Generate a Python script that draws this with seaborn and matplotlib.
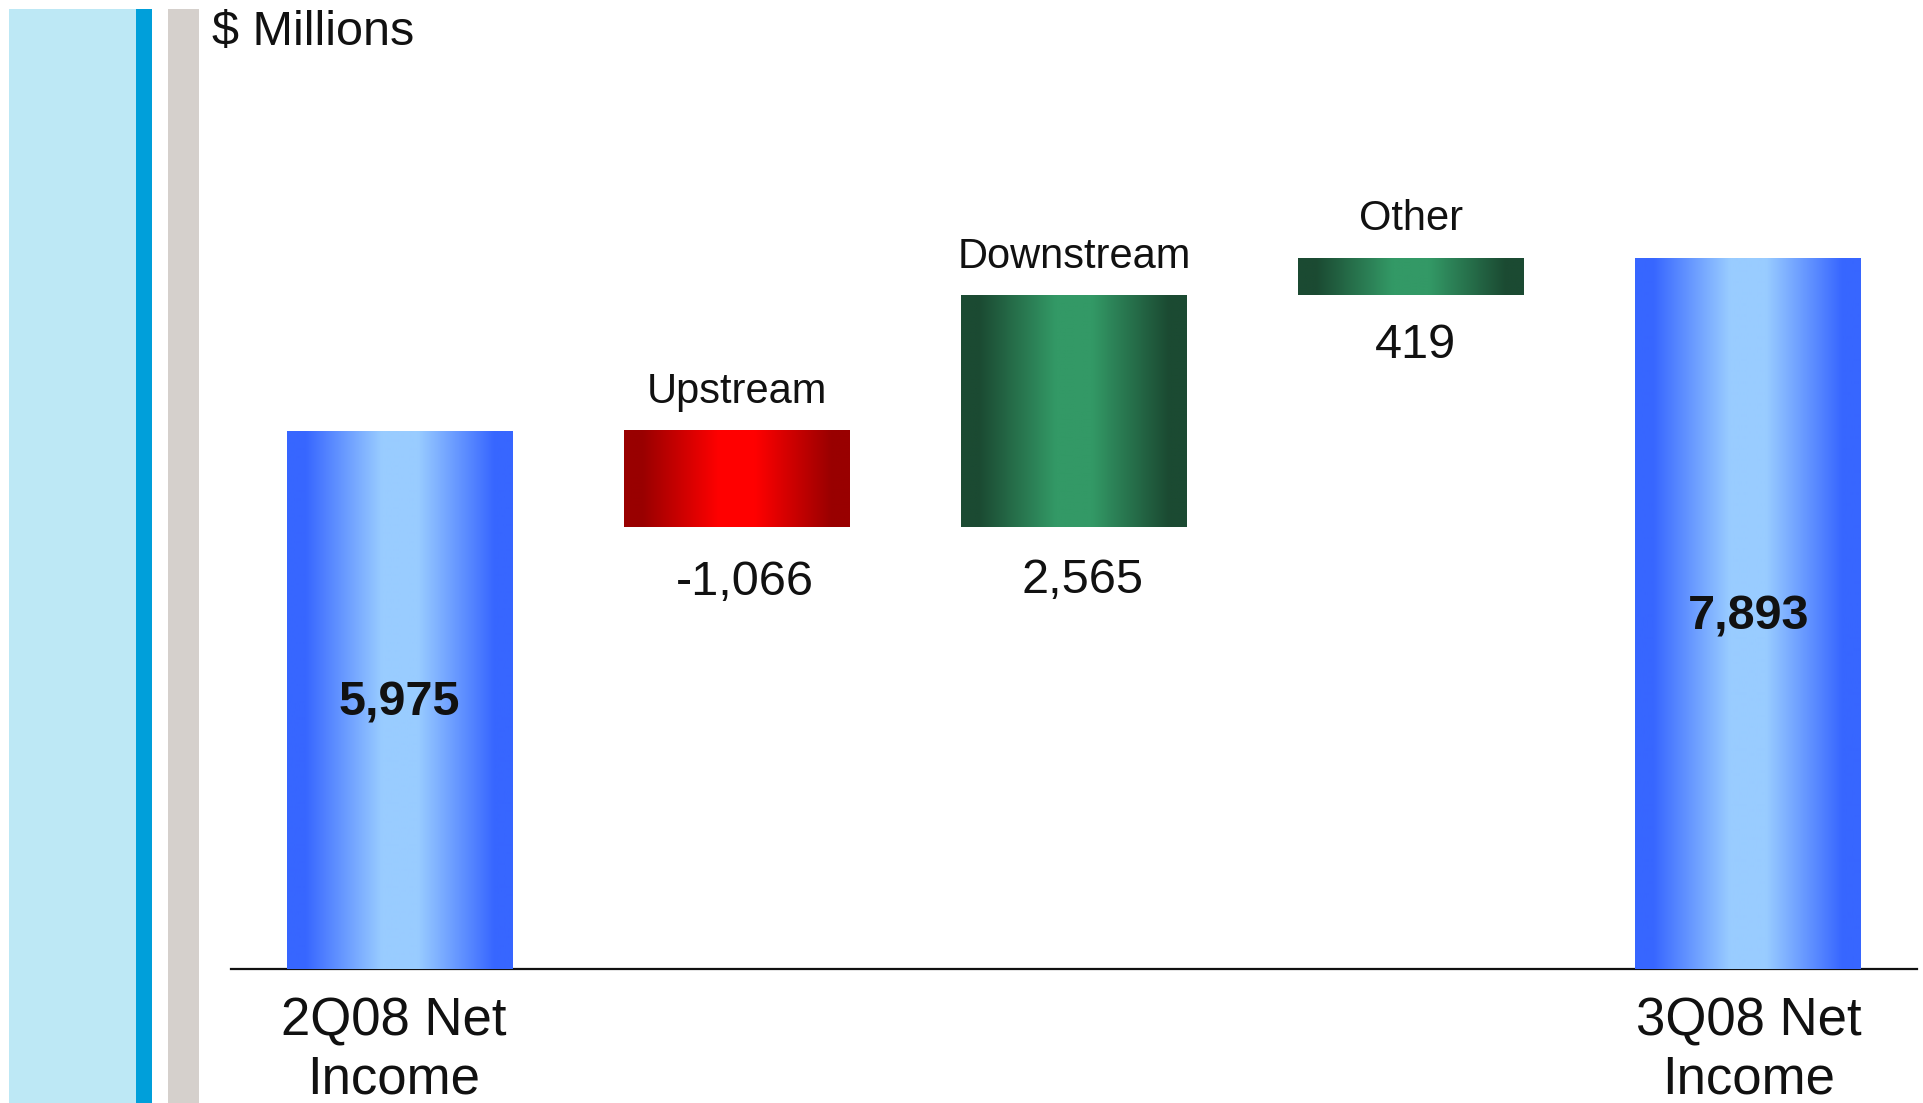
import numpy as np
import pandas as pd
import matplotlib
matplotlib.use("Agg")
import matplotlib.pyplot as plt
from matplotlib.colors import LinearSegmentedColormap
from matplotlib.patches import Rectangle
import matplotlib.transforms as mtransforms
import seaborn as sns

# Net income walk, $ millions
categories = ["2Q08 Net Income", "Upstream", "Downstream", "Other", "3Q08 Net Income"]
start_value = 5975
segment_changes = [-1066, 2565, 419]
end_value = 7893
tick_labels = ["2Q08 Net\nIncome", "", "", "", "3Q08 Net\nIncome"]
segment_names = ["Upstream", "Downstream", "Other"]
value_labels = ["5,975", "-1,066", "2,565", "419", "7,893"]

# Floating bar geometry for the waterfall
bottoms, heights = [0], [start_value]
level = start_value
for ch in segment_changes:
    lo, hi = sorted((level, level + ch))
    bottoms.append(lo)
    heights.append(hi - lo)
    level += ch
bottoms.append(0)
heights.append(end_value)

df = pd.DataFrame({"category": categories, "height": heights, "bottom": bottoms})

sns.set_theme(style="white")
plt.rcParams["font.family"] = ["Liberation Sans", "DejaVu Sans"]

W, H, DPI = 1923, 1103, 100
fig = plt.figure(figsize=(W / DPI, H / DPI), dpi=DPI)
fig.patch.set_facecolor("white")

# Decorative side strips
for x0, x1, col in [(8.6, 136, "#bde8f5"), (136, 152, "#009fda"), (168, 199, "#d5d0cc")]:
    fig.patches.append(Rectangle((x0 / W, 0), (x1 - x0) / W, 1 - 8.6 / H,
                                 transform=fig.transFigure, facecolor=col,
                                 edgecolor="none", zorder=0))

ax_left, ax_right = 231 / W, 1917 / W
ax_bottom = (H - 969) / H
ax = fig.add_axes([ax_left, ax_bottom, ax_right - ax_left, 1 - ax_bottom])
ax.set_facecolor("none")

sns.barplot(data=df, x="category", y="height", bottom=df["bottom"], ax=ax,
            width=0.67, color="white", edgecolor="none", linewidth=0,
            errorbar=None, zorder=2)

px_per_unit = 538.5 / 5975


def gradient_cmap(edge, center):
    return LinearSegmentedColormap.from_list(
        "g", [(0.0, edge), (0.08, edge), (0.42, center), (0.58, center),
              (0.92, edge), (1.0, edge)])


blue = gradient_cmap("#3766ff", "#99ccff")
red = gradient_cmap("#990000", "#ff0000")
green = gradient_cmap("#1b4a32", "#339966")
bar_cmaps = [blue, red, green, green, blue]

grad = np.linspace(0, 1, 256).reshape(1, -1)
for patch, cmap in zip(ax.patches, bar_cmaps):
    x0, y0 = patch.get_x(), patch.get_y()
    w, h = patch.get_width(), patch.get_height()
    im = ax.imshow(grad, cmap=cmap, aspect="auto", interpolation="bilinear",
                   extent=(x0, x0 + w, y0, y0 + h), zorder=3)
    im.set_clip_path(patch)

ax.set_xlim(-0.5, 4.5)
ax.set_ylim(0, 969 / px_per_unit)

# Total labels inside the end bars
for i in (0, 4):
    ax.annotate(value_labels[i], (i, heights[i] / 2), xytext=(0, -2.5),
                textcoords="offset points", ha="center", va="center",
                fontsize=35, fontweight="bold", color="#111111", zorder=4)

# Segment names above, values below the floating bars
value_offsets = [(6, -40), (6, -39), (3, -36)]
for j, name in enumerate(segment_names):
    i = j + 1
    top = bottoms[i] + heights[i]
    bot = bottoms[i]
    ax.annotate(name, (i, top), xytext=(0, 28), textcoords="offset points",
                ha="center", va="center", fontsize=30, color="#111111", zorder=4)
    ax.annotate(value_labels[i], (i, bot), xytext=value_offsets[j],
                textcoords="offset points",
                ha="center", va="center", fontsize=35, color="#111111", zorder=4)

ax.set_xticks(range(len(tick_labels)))
ax.set_xticklabels(tick_labels, fontsize=38, color="#111111", linespacing=1.2)
ax.tick_params(axis="x", length=0, pad=20)
first = ax.get_xticklabels()[0]
first.set_transform(first.get_transform() +
                    mtransforms.ScaledTranslation(-6 / DPI, 0, fig.dpi_scale_trans))
ax.set_yticks([])
ax.set_xlabel("")
ax.set_ylabel("")
for s in ("top", "left", "right"):
    ax.spines[s].set_visible(False)
ax.spines["bottom"].set_color("#111111")
ax.spines["bottom"].set_linewidth(1.6)

fig.text(212 / W, 1 - 32 / H, "$ Millions", ha="left", va="center",
         fontsize=35, color="#111111")

fig.savefig("out.png", dpi=DPI)
